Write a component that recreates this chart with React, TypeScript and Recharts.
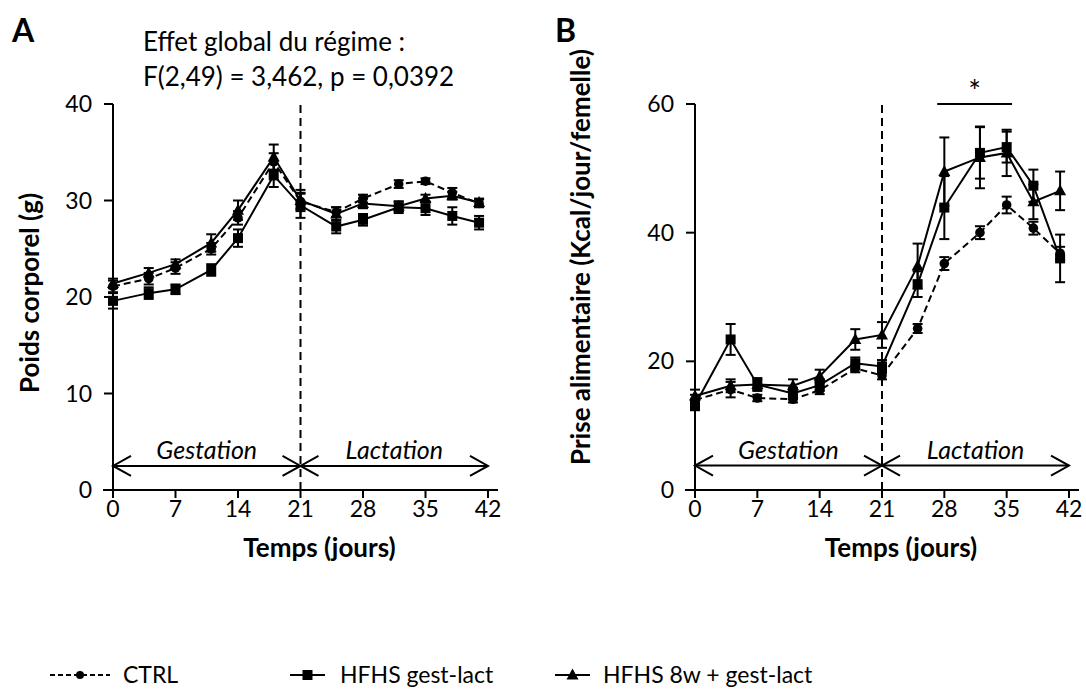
import React from 'react';
import { LineChart, Line, XAxis, YAxis, ErrorBar, ReferenceLine } from 'recharts';

const FONT = "Lato, 'Open Sans', sans-serif";

const days = [0, 4, 7, 11, 14, 18, 21, 25, 28, 32, 35, 38, 41];
const xTicks = [0, 7, 14, 21, 28, 35, 42];
const poidsTicks = [0, 10, 20, 30, 40];
const priseTicks = [0, 20, 40, 60];

// A : poids corporel (g), moyenne et SEM
const poidsCtrl = [21.1, 21.9, 23.0, 25.0, 28.2, 34.0, 29.9, 28.8, 30.2, 31.7, 32.0, 30.8, 29.7];
const poidsCtrlSem = [0.6, 0.6, 0.6, 0.6, 0.7, 0.9, 0.8, 0.5, 0.4, 0.4, 0.3, 0.5, 0.4];
const poidsGest = [19.6, 20.4, 20.8, 22.8, 26.1, 32.6, 29.5, 27.3, 28.0, 29.3, 29.2, 28.4, 27.7];
const poidsGestSem = [0.8, 0.6, 0.5, 0.6, 0.9, 1.2, 1.3, 0.7, 0.6, 0.6, 0.7, 0.9, 0.7];
const poids8w = [21.4, 22.5, 23.4, 25.6, 29.0, 34.5, 30.0, 28.6, 29.7, 29.4, 30.2, 30.5, 29.8];
const poids8wSem = [0.5, 0.5, 0.5, 0.9, 1.0, 1.3, 1.1, 0.7, 0.5, 0.5, 0.4, 0.4, 0.4];

// B : prise alimentaire (Kcal/jour/femelle)
const priseCtrl = [14.0, 15.6, 14.3, 14.1, 15.5, 18.9, 17.8, 25.1, 35.2, 40.0, 44.3, 40.7, 36.8];
const priseCtrlSem = [0.8, 1.2, 0.5, 0.5, 0.6, 0.6, 0.6, 0.7, 1.0, 1.0, 1.3, 1.0, 1.0];
const priseGest = [13.2, 23.4, 16.4, 15.0, 16.3, 19.7, 19.2, 32.0, 43.9, 52.4, 53.3, 47.3, 36.0];
const priseGestSem = [0.8, 2.4, 1.0, 0.9, 0.9, 0.9, 1.0, 2.0, 4.9, 4.0, 2.4, 2.5, 3.7];
const prise8w = [14.6, 16.2, 16.4, 16.2, 17.7, 23.4, 24.1, 34.8, 49.5, 51.7, 52.4, 44.8, 46.5];
const prise8wSem = [1.0, 1.0, 0.8, 1.0, 1.0, 1.6, 2.0, 3.5, 5.3, 4.8, 3.6, 2.7, 3.0];

const buildRows = (c: number[], cs: number[], g: number[], gs: number[], w: number[], ws: number[]) =>
  days.map((d, i) => ({ day: d, ctrl: c[i], ctrlErr: cs[i], gest: g[i], gestErr: gs[i], w8: w[i], w8Err: ws[i] }));

const poidsData = buildRows(poidsCtrl, poidsCtrlSem, poidsGest, poidsGestSem, poids8w, poids8wSem);
const priseData = buildRows(priseCtrl, priseCtrlSem, priseGest, priseGestSem, prise8w, prise8wSem);

const CircleDot = (p: any) => <circle key={p.key} cx={p.cx} cy={p.cy} r={4.8} fill="#000" />;
const SquareDot = (p: any) => <rect key={p.key} x={p.cx - 5} y={p.cy - 5} width={10} height={10} fill="#000" />;
const TriangleDot = (p: any) => (
  <polygon key={p.key} points={`${p.cx},${p.cy - 6.5} ${p.cx - 6},${p.cy + 4.5} ${p.cx + 6},${p.cy + 4.5}`} fill="#000" />
);

// double-headed arrow used for the Gestation / Lactation periods
const ArrowLine = (p: any) => {
  const { x1, y1, x2, y2 } = p;
  const h = 18;
  const w = 10;
  return (
    <g stroke="#000" strokeWidth={2} fill="none">
      <line x1={x1} y1={y1} x2={x2} y2={y2} />
      <polyline points={`${x1 + h},${y1 - w} ${x1},${y1} ${x1 + h},${y1 + w}`} />
      <polyline points={`${x2 - h},${y2 - w} ${x2},${y2} ${x2 - h},${y2 + w}`} />
    </g>
  );
};

const tickStyle = { fill: '#000', fontSize: 23, fontFamily: FONT };
const periodLabel = (value: string) => ({
  value,
  position: 'top' as const,
  offset: 7,
  fill: '#000',
  fontSize: 25,
  fontStyle: 'italic',
  fontFamily: FONT,
});

type PanelProps = {
  data: any[];
  yTicks: number[];
  yMax: number;
  yLabel: string;
  yAxisWidth: number;
  width: number;
  marginRight: number;
  labelDx: number;
  labelDy: number;
  arrowY: number;
  children?: React.ReactNode;
};

const Panel = ({ data, yTicks, yMax, yLabel, yAxisWidth, width, marginRight, labelDx, labelDy, arrowY, children }: PanelProps) => (
  <LineChart width={width} height={590} data={data} margin={{ top: 104, right: marginRight, left: 0, bottom: 30 }}>
    <XAxis
      dataKey="day"
      type="number"
      domain={[0, 42]}
      ticks={xTicks}
      axisLine={false}
      tickLine={{ stroke: '#000', strokeWidth: 2 }}
      tickSize={8}
      tickMargin={3}
      tick={tickStyle}
      height={70}
      label={{ value: 'Temps (jours)', position: 'center', dx: 19, dy: 23, fill: '#000', fontSize: 26, fontWeight: 700, fontFamily: FONT }}
    />
    <YAxis
      type="number"
      domain={[0, yMax]}
      ticks={yTicks}
      width={yAxisWidth}
      axisLine={{ stroke: '#000', strokeWidth: 2 }}
      tickLine={{ stroke: '#000', strokeWidth: 2 }}
      tickSize={9}
      tickMargin={12}
      tick={tickStyle}
      label={{ value: yLabel, angle: -90, position: 'center', dx: labelDx, dy: labelDy, fill: '#000', fontSize: 26, fontWeight: 700, fontFamily: FONT }}
    />
    <ReferenceLine segment={[{ x: -1.12, y: 0 }, { x: 43.12, y: 0 }]} stroke="#000" strokeWidth={2} ifOverflow="visible" />
    <ReferenceLine x={21} stroke="#000" strokeWidth={2} strokeDasharray="8 5" />
    <ReferenceLine segment={[{ x: 0, y: arrowY }, { x: 21, y: arrowY }]} shape={ArrowLine} label={periodLabel('Gestation')} />
    <ReferenceLine segment={[{ x: 21, y: arrowY }, { x: 42, y: arrowY }]} shape={ArrowLine} label={periodLabel('Lactation')} />
    {children}
    <Line type="linear" dataKey="ctrl" stroke="#000" strokeWidth={2} strokeDasharray="7 4" dot={CircleDot} activeDot={false} isAnimationActive={false}>
      <ErrorBar dataKey="ctrlErr" width={5} stroke="#000" strokeWidth={2} isAnimationActive={false} />
    </Line>
    <Line type="linear" dataKey="gest" stroke="#000" strokeWidth={2} dot={SquareDot} activeDot={false} isAnimationActive={false}>
      <ErrorBar dataKey="gestErr" width={5} stroke="#000" strokeWidth={2} isAnimationActive={false} />
    </Line>
    <Line type="linear" dataKey="w8" stroke="#000" strokeWidth={2} dot={TriangleDot} activeDot={false} isAnimationActive={false}>
      <ErrorBar dataKey="w8Err" width={5} stroke="#000" strokeWidth={2} isAnimationActive={false} />
    </Line>
  </LineChart>
);

export default function App() {
  return (
    <div style={{ position: 'absolute', left: 0, top: 0, width: 1086, height: 700, background: '#fff', fontFamily: FONT }}>
      <div style={{ position: 'absolute', left: 0, top: 0 }}>
        <Panel
          data={poidsData}
          yTicks={poidsTicks}
          yMax={40}
          yLabel="Poids corporel (g)"
          yAxisWidth={113}
          width={520}
          marginRight={32}
          labelDx={-27}
          labelDy={-4}
          arrowY={2.5}
        />
      </div>
      <div style={{ position: 'absolute', left: 560, top: 0 }}>
        <Panel
          data={priseData}
          yTicks={priseTicks}
          yMax={60}
          yLabel="Prise alimentaire (Kcal/jour/femelle)"
          yAxisWidth={135}
          width={526}
          marginRight={17}
          labelDx={-47}
          labelDy={-40}
          arrowY={3.8}
        >
          <ReferenceLine
            segment={[{ x: 27.2, y: 60 }, { x: 35.6, y: 60 }]}
            stroke="#000"
            strokeWidth={2}
            ifOverflow="visible"
            label={{ value: '*', position: 'top', offset: 2, fill: '#000', fontSize: 30, fontFamily: FONT }}
          />
        </Panel>
      </div>
      <svg width={1086} height={700} style={{ position: 'absolute', left: 0, top: 0, pointerEvents: 'none' }} fontFamily={FONT}>
        <text x={12} y={42} fontSize={32} fontWeight={700}>A</text>
        <text x={555} y={42} fontSize={32} fontWeight={700}>B</text>
        <text x={143} y={51} fontSize={26}>Effet global du régime :</text>
        <text x={143} y={86} fontSize={26}>F(2,49) = 3,462, p = 0,0392</text>

        <g stroke="#000" strokeWidth={2}>
          <line x1={50} y1={675} x2={110} y2={675} strokeDasharray="5 3" />
          <line x1={290} y1={675} x2={325} y2={675} />
          <line x1={555} y1={675} x2={590} y2={675} />
        </g>
        <circle cx={80} cy={675} r={4} fill="#000" />
        <rect x={302.5} y={670} width={10} height={10} fill="#000" />
        <polygon points="572.5,668.5 566.5,679.5 578.5,679.5" fill="#000" />
        <text x={123} y={683} fontSize={23}>CTRL</text>
        <text x={340} y={683} fontSize={23}>HFHS gest-lact</text>
        <text x={603} y={683} fontSize={23}>HFHS 8w + gest-lact</text>
      </svg>
    </div>
  );
}
